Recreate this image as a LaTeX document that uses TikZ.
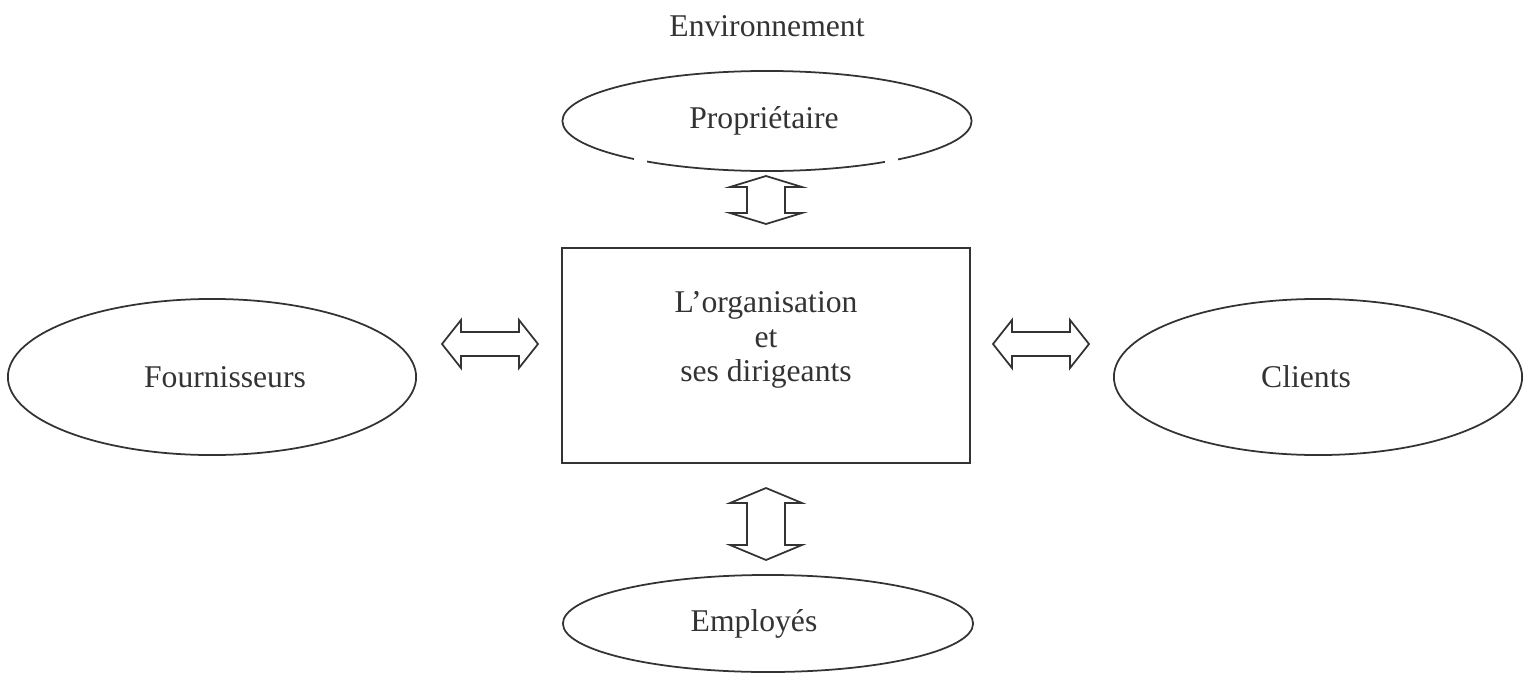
\documentclass[tikz,border=0pt]{standalone}
\usepackage{fontspec}
\setmainfont{Liberation Serif}
\usetikzlibrary{shapes.geometric,calc}
\begin{document}
\begin{tikzpicture}[x=0.01cm,y=-0.01cm,line width=.5pt,
    every node/.style={text=black!80,font=\fontsize{9pt}{9.7pt}\selectfont},
    blob/.style={draw=black!80,ellipse,inner sep=0pt,minimum width=4.08cm},
    box/.style={draw=black!80,rectangle,inner sep=0pt,minimum width=4.08cm,minimum height=2.15cm},
    pics/updown/.style 2 args={code={
      \draw[black!80] (0,-#1) -- (36,{-#1+#2}) -- (19,{-#1+#2}) -- (19,{#1-#2}) -- (36,{#1-#2})
        -- (0,#1) -- (-36,{#1-#2}) -- (-19,{#1-#2}) -- (-19,{-#1+#2}) -- (-36,{-#1+#2}) -- cycle;}},
    pics/leftright/.style={code={
      \draw[black!80] (-48,0) -- (-29,-24) -- (-29,-12) -- (29,-12) -- (29,-24) -- (48,0)
        -- (29,24) -- (29,12) -- (-29,12) -- (-29,24) -- cycle;}}]
  \useasboundingbox (0,0) rectangle (1530,700);
  \node[anchor=base] (env) at (767,37) {Environnement};
  \node[blob,minimum width=4.09cm,minimum height=1cm] (prop) at (767,121) {};
  \node (proptxt) at ($(prop)+(-3,0)$) {Propriétaire};
  % the two breaks in the lower edge
  \fill[white] (634,150) rectangle (647,175);
  \fill[white] (885,150) rectangle (898,175);
  \node[box] (org) at (766,355.5) {};
  \node[anchor=north,align=center,inner sep=0pt] (orgtxt) at ($(org.north)+(0,44)$)
    {L’organisation\\et\\ses dirigeants};
  \node[blob,minimum height=1.56cm] (four) at (212,377) {};
  \node (fourtxt) at ($(four)+(13,0)$) {Fournisseurs};
  \node[blob,minimum height=1.56cm] (cli) at (1318,377) {};
  \node (clitxt) at ($(cli)+(-12,0)$) {Clients};
  \node[blob,minimum width=4.1cm,minimum height=.97cm] (emp) at (768,623.5) {};
  \node (emptxt) at ($(emp)+(-14,0)$) {Employés};
  % block arrows
  \coordinate (aTop) at (766,200);
  \coordinate (aBot) at (766,524);
  \coordinate (aLeft) at (490,344);
  \coordinate (aRight) at (1041,344);
  \pic at (aTop) {updown={24}{11}};
  \pic at (aBot) {updown={36}{15}};
  \pic at (aLeft) {leftright};
  \pic at (aRight) {leftright};
\end{tikzpicture}
\end{document}
